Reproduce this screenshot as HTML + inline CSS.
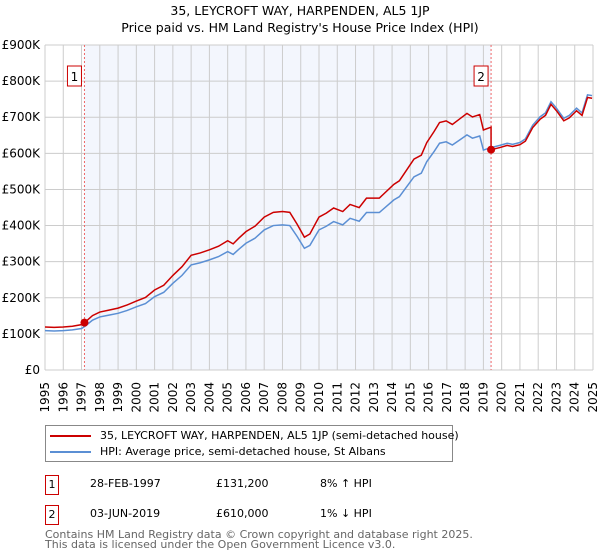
<!DOCTYPE html>
<html><head><meta charset="utf-8"><style>
body{margin:0;background:#fff;font-family:"DejaVu Sans","Liberation Sans",sans-serif;}
#wrap{position:relative;width:600px;height:560px;overflow:hidden}
.t{position:absolute;white-space:nowrap;color:#000}
</style></head><body><div id="wrap">
<div class="t" style="left:0;width:600px;text-align:center;top:3px;font-size:12.5px">35, LEYCROFT WAY, HARPENDEN, AL5 1JP</div>
<div class="t" style="left:0;width:600px;text-align:center;top:20px;font-size:12.5px">Price paid vs. HM Land Registry's House Price Index (HPI)</div>
<svg id="chart" width="600" height="425" style="position:absolute;left:0;top:0"></svg>
<div style="position:absolute;left:45px;top:425px;width:408px;height:37px;border:1px solid #888;box-sizing:border-box;font-size:11px;white-space:nowrap">
<div style="position:absolute;left:4px;top:3px"><span style="display:inline-block;width:41px;height:2px;background:#cc0000;vertical-align:middle;margin-right:9px"></span>35, LEYCROFT WAY, HARPENDEN, AL5 1JP (semi-detached house)</div>
<div style="position:absolute;left:4px;top:19px"><span style="display:inline-block;width:41px;height:2px;background:#5b8fd4;vertical-align:middle;margin-right:9px"></span>HPI: Average price, semi-detached house, St Albans</div>
</div>
<div style="position:absolute;top:475px;left:0;font-size:11px;width:600px;height:18px">
<span style="position:absolute;left:45px;top:0;width:12px;height:18px;border:1px solid #cc0000;text-align:center;line-height:18px">1</span>
<span class="t" style="left:90px;top:2px">28-FEB-1997</span><span class="t" style="left:216px;top:2px">£131,200</span><span class="t" style="left:320px;top:2px">8% ↑ HPI</span></div>
<div style="position:absolute;top:505px;left:0;font-size:11px;width:600px;height:18px">
<span style="position:absolute;left:45px;top:0;width:12px;height:18px;border:1px solid #cc0000;text-align:center;line-height:18px">2</span>
<span class="t" style="left:90px;top:2px">03-JUN-2019</span><span class="t" style="left:216px;top:2px">£610,000</span><span class="t" style="left:320px;top:2px">1% ↓ HPI</span></div>
<div class="t" style="left:45px;top:530px;font-size:11px;color:#666;line-height:10px">Contains HM Land Registry data © Crown copyright and database right 2025.<br>This data is licensed under the Open Government Licence v3.0.</div>
</div>
<script>
const hpiYears=[1995,1995.5,1996,1996.5,1997,1997.2,1997.6,1998,1998.5,1999,1999.5,2000,2000.5,2001,2001.5,2002,2002.5,2003,2003.5,2004,2004.5,2005,2005.3,2005.6,2006,2006.5,2007,2007.5,2008,2008.4,2008.8,2009.2,2009.5,2010,2010.4,2010.8,2011.3,2011.7,2012.2,2012.6,2013.3,2014.1,2014.4,2015.2,2015.6,2015.9,2016.3,2016.6,2016.96,2017.3,2017.7,2018.1,2018.4,2018.8,2019.0,2019.42,2019.9,2020.3,2020.6,2021.0,2021.3,2021.7,2022.1,2022.4,2022.7,2023.0,2023.4,2023.7,2024.1,2024.4,2024.7,2024.95];
const hpiValues=[109,108,109,111,115,121.5,138,147,152,157,165,175,184,203,215,240,262,291,297,305,314,328,320,334,351,365,388,400,402,400,370,337,345,388,398,411,402,420,412,436,436,471,480,535,545,577,605,628,632,623,637,651,642,648,609,616,622,628,625,630,640,678,701,712,743,725,697,705,725,712,762,760];
const saleDates=[1997.16,2019.42];
const salePrices=[131.2,610];
const xTicks=[1995,1996,1997,1998,1999,2000,2001,2002,2003,2004,2005,2006,2007,2008,2009,2010,2011,2012,2013,2014,2015,2016,2017,2018,2019,2020,2021,2022,2023,2024,2025];
const yTicks=[0,100,200,300,400,500,600,700,800,900];
const yLabels=["£0","£100K","£200K","£300K","£400K","£500K","£600K","£700K","£800K","£900K"];
const NS="http://www.w3.org/2000/svg",svg=document.getElementById('chart');
const X0=45,X1=593,Y0=370,Y1=45;
const x=v=>X0+(v-1995)/30*(X1-X0), y=v=>Y0-v/900*(Y0-Y1);
function mk(t,a){const e=document.createElementNS(NS,t);for(const k in a)e.setAttribute(k,a[k]);svg.appendChild(e);return e;}
function hpiAt(t){for(let i=0;i<hpiYears.length-1;i++){if(t<=hpiYears[i+1]){const f=(t-hpiYears[i])/(hpiYears[i+1]-hpiYears[i]);return hpiValues[i]+f*(hpiValues[i+1]-hpiValues[i]);}}return hpiValues[hpiValues.length-1];}
let r=mk('rect',{x:x(saleDates[0]),y:Y1,width:x(saleDates[1])-x(saleDates[0]),height:Y0-Y1,fill:'#f3f6fd'});

xTicks.forEach(v=>{const l=mk('line',{x1:x(v),x2:x(v),y1:Y1,y2:Y0,stroke:'#cccccc','stroke-width':1});

const t=mk('text',{x:0,y:0,'font-size':12,'text-anchor':'end',transform:`translate(${x(v)+4},${Y0+12}) rotate(-90)`,fill:'#000','font-family':'DejaVu Sans, sans-serif'});t.textContent=v;
});
yTicks.forEach((v,i)=>{const l=mk('line',{x1:X0,x2:X1,y1:y(v),y2:y(v),stroke:'#cccccc','stroke-width':1});

const t=mk('text',{x:X0-5,y:y(v)+4,'font-size':12,'text-anchor':'end',fill:'#000','font-family':'DejaVu Sans, sans-serif'});t.textContent=yLabels[i];
});
saleDates.forEach((d,i)=>{const l=mk('line',{x1:x(d),x2:x(d),y1:Y1,y2:Y0,stroke:'#ee6666','stroke-width':1,'stroke-dasharray':'2,2'});

const b=mk('rect',{x:x(d)-17,y:66,width:14,height:20,fill:'#fff',stroke:'#cc0000'});

const t=mk('text',{x:x(d)-10,y:81,'font-size':12,'text-anchor':'middle','font-family':'DejaVu Sans, sans-serif'});t.textContent=i+1;
});
const hp=hpiYears.map((t,i)=>x(t)+','+y(hpiValues[i])).join(' ');
const hl=mk('polyline',{points:hp,fill:'none',stroke:'#5b8fd4','stroke-width':1.5});

function ratio(t){const k=t<saleDates[1]?0:1;return salePrices[k]/hpiAt(saleDates[k]);}
let ts=[...hpiYears,saleDates[0],saleDates[1]-0.001].sort((a,b)=>a-b);
const pp=ts.map(t=>x(t)+','+y(hpiAt(t)*(t<saleDates[0]?ratio(saleDates[0]):ratio(t)))).join(' ');
const pl=mk('polyline',{points:pp,fill:'none',stroke:'#cc0000','stroke-width':1.5});

saleDates.forEach((d,i)=>{const c=mk('circle',{cx:x(d),cy:y(salePrices[i]),r:4,fill:'#cc0000'});
});
</script></body></html>
